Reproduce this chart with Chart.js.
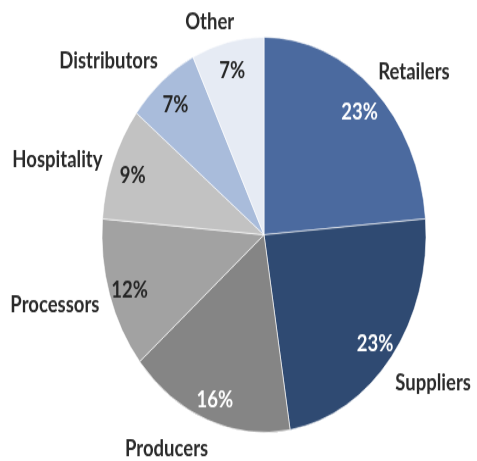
<!DOCTYPE html>
<html>
<head>
<meta charset="utf-8">
<title>Share by sector</title>
<script src="https://cdn.jsdelivr.net/npm/chart.js@4.4.1/dist/chart.umd.min.js"></script>
<style>
  html { overflow: hidden; }
  body { margin: 0; padding: 0; background: #fff; height: 461px; }
  /* chart is drawn round, then stretched vertically into the frame */
  #wrap { width: 477px; height: 378px; transform: scale(1, 1.2196); transform-origin: 0 0; }
  canvas { display: block; }
</style>
</head>
<body>
<div id="wrap"><canvas id="pie" width="477" height="378"></canvas></div>
<script>
var categories = ["Retailers", "Suppliers", "Producers", "Processors", "Hospitality", "Distributors", "Other"];
var shares = [23, 23, 16, 12, 9, 7, 7];

var sliceColors = ["#4b6a9f", "#2f4a72", "#858585", "#a2a2a2", "#c2c2c2", "#a9bcdb", "#e6ebf4"];
var pctColors = ["#ffffff", "#ffffff", "#ffffff", "#262626", "#262626", "#262626", "#262626"];
// small turn (degrees) applied to the outside name labels
var nameTurn = [5, -3, 9, 3, -4, -8, -4];

var FONT = "Lato, 'Liberation Sans', Arial, sans-serif";

// Draws the percentage inside each slice and the name just outside it
var sliceLabels = {
  id: "sliceLabels",
  afterDatasetsDraw: function (chart) {
    var ctx = chart.ctx;
    var meta = chart.getDatasetMeta(0);
    ctx.save();
    ctx.textAlign = "center";
    ctx.textBaseline = "middle";
    ctx.font = "bold 18.5px " + FONT;
    meta.data.forEach(function (arc, i) {
      var p = arc.getProps(["x", "y", "startAngle", "endAngle", "outerRadius"], true);
      var mid = (p.startAngle + p.endAngle) / 2;
      var cy = p.y + 3;

      // percentage
      var r1 = p.outerRadius * 0.87;
      ctx.fillStyle = pctColors[i];
      ctx.fillText(shares[i] + "%", p.x + Math.cos(mid) * r1, cy + Math.sin(mid) * r1);

      // category name
      var a = mid + nameTurn[i] * Math.PI / 180;
      var w = ctx.measureText(categories[i]).width;
      var r2 = p.outerRadius + 9 + Math.abs(Math.cos(a)) * w / 2 + Math.abs(Math.sin(a)) * 8;
      ctx.fillStyle = "#2a2a2a";
      ctx.fillText(categories[i], p.x + Math.cos(a) * r2, cy + Math.sin(a) * r2);
    });
    ctx.restore();
  },
};

var ctx = document.getElementById("pie").getContext("2d");
var pie = new Chart(ctx, {
  type: "pie",
  data: {
    labels: categories,
    datasets: [
      {
        data: shares,
        backgroundColor: sliceColors,
        borderColor: "rgba(255, 255, 255, 0.6)",
        borderWidth: 1,
      },
    ],
  },
  options: {
    responsive: false,
    animation: false,
    layout: { padding: { left: 101, right: 50, top: 30, bottom: 23 } },
    plugins: {
      legend: { display: false },
      tooltip: { enabled: false },
    },
  },
  plugins: [sliceLabels],
});
</script>
</body>
</html>
